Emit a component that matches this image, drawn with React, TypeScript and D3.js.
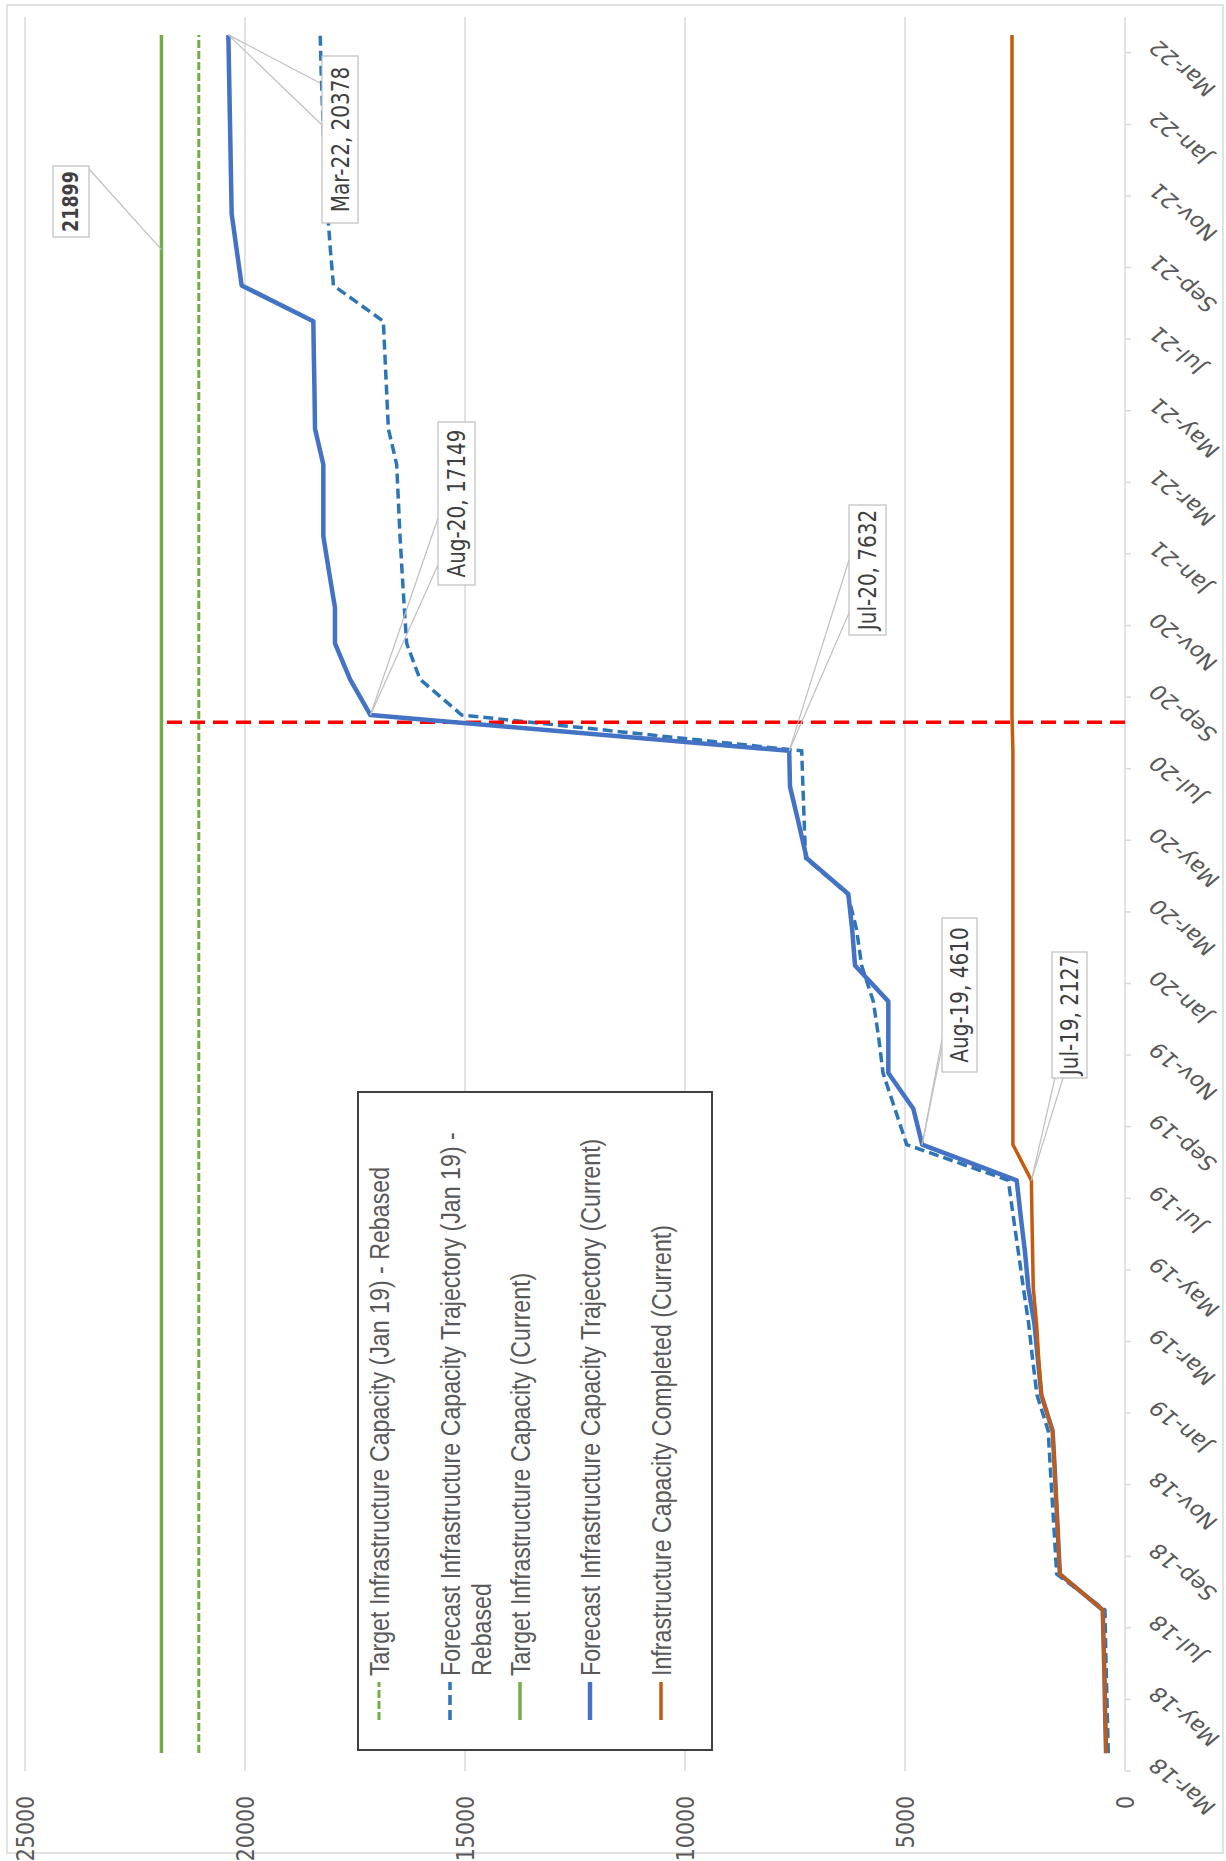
import React from 'react';
import * as d3 from 'd3';

// Month categories (one point per month)
const months = [
  'Mar-18', 'Apr-18', 'May-18', 'Jun-18', 'Jul-18', 'Aug-18', 'Sep-18', 'Oct-18', 'Nov-18', 'Dec-18',
  'Jan-19', 'Feb-19', 'Mar-19', 'Apr-19', 'May-19', 'Jun-19', 'Jul-19', 'Aug-19', 'Sep-19', 'Oct-19', 'Nov-19', 'Dec-19',
  'Jan-20', 'Feb-20', 'Mar-20', 'Apr-20', 'May-20', 'Jun-20', 'Jul-20', 'Aug-20', 'Sep-20', 'Oct-20', 'Nov-20', 'Dec-20',
  'Jan-21', 'Feb-21', 'Mar-21', 'Apr-21', 'May-21', 'Jun-21', 'Jul-21', 'Aug-21', 'Sep-21', 'Oct-21', 'Nov-21', 'Dec-21',
  'Jan-22', 'Feb-22', 'Mar-22',
];

// Forecast Infrastructure Capacity Trajectory (Jan 19) - Rebased
const forecastRebased = [
  380, 400, 420, 440, 455, 1553, 1600, 1650, 1700, 1745,
  2000, 2100, 2190, 2311, 2424, 2540, 2652, 4962, 5230, 5500, 5600, 5720,
  5985, 6100, 6300, 7260, 7290, 7320, 7348, 15075, 16023, 16326, 16380, 16430,
  16477, 16515, 16553, 16742, 16780, 16818, 16856, 17990, 18060, 18120, 18170, 18210,
  18240, 18270, 18290,
];

// Forecast Infrastructure Capacity Trajectory (Current)
const forecastCurrent = [
  430, 450, 465, 485, 505, 1480, 1520, 1560, 1600, 1645,
  1900, 1980, 2060, 2197, 2273, 2370, 2462, 4610, 4811, 5379, 5379, 5379,
  6136, 6200, 6288, 7234, 7420, 7614, 7632, 17149, 17614, 17955, 17955, 18090,
  18220, 18220, 18220, 18409, 18420, 18435, 18447, 20076, 20190, 20303, 20318, 20333,
  20348, 20363, 20378,
];

// Infrastructure Capacity Completed (Current)
const completed = [
  430, 450, 465, 485, 505, 1480, 1520, 1560, 1600, 1645,
  1900, 1960, 2010, 2085, 2100, 2115, 2127, 2548, 2548, 2548, 2548, 2548,
  2548, 2548, 2548, 2548, 2548, 2548, 2548, 2568, 2568, 2568, 2568, 2568,
  2568, 2568, 2568, 2568, 2568, 2568, 2568, 2568, 2568, 2568, 2568, 2568,
  2568, 2568, 2568,
];

// Target capacities (flat across the whole period)
const targetCurrent = 21899;
const targetRebased = 21050;

// Cut-off marker (month index position) spanning 0 .. current target
const cutoffPosition = 28.8;
const cutoffRange = [0, 21899];

const valueTicks = [0, 5000, 10000, 15000, 20000, 25000];

// Landscape chart frame; the whole drawing is turned a quarter turn
const W = 1861;
const H = 1226;
const SY = 1.2; // glyph stretch along the value direction

const FONT_NUM = "'DejaVu Sans', Verdana, sans-serif";
const FONT_LEG = "'Liberation Sans', Arial, sans-serif";

const x = d3.scaleLinear().domain([-0.5, months.length - 0.5]).range([90, 1844]);
const y = d3.scaleLinear().domain([0, 25000]).range([1125, 25]);

const COLORS = {
  green: '#70AD47',
  blueDash: '#2E75B6',
  blue: '#4472C4',
  orange: '#C55A11',
  red: '#FF0000',
};

type TxtProps = {
  x: number; y: number; rot?: number; anchor?: string; size: number; family: string;
  weight?: string | number; fill?: string; baseline?: string; children: React.ReactNode;
};

function Txt({ x: tx, y: ty, rot = 0, anchor = 'middle', size, family, weight = 'normal', fill = '#595959', baseline = 'central', children }: TxtProps) {
  return (
    <g transform={`translate(${tx},${ty}) scale(1,${SY})${rot ? ` rotate(${rot})` : ''}`}>
      <text textAnchor={anchor as any} dominantBaseline={baseline as any} fontSize={size} fontFamily={family} fontWeight={weight} fill={fill}>
        {children}
      </text>
    </g>
  );
}

const line = d3.line<number>().x((_, i) => x(i)).y((d) => y(d));

const legendItems = [
  { lines: ['Target Infrastructure Capacity (Jan 19) - Rebased'], color: COLORS.green, dash: '8,3', width: 3, row: 379 },
  { lines: ['Forecast Infrastructure Capacity Trajectory (Jan 19) -', 'Rebased'], color: COLORS.blueDash, dash: '10,5', width: 3.5, row: 450 },
  { lines: ['Target Infrastructure Capacity (Current)'], color: COLORS.green, dash: undefined, width: 3.5, row: 520 },
  { lines: ['Forecast Infrastructure Capacity Trajectory (Current)'], color: COLORS.blue, dash: undefined, width: 4.5, row: 590 },
  { lines: ['Infrastructure Capacity Completed (Current)'], color: COLORS.orange, dash: undefined, width: 3.5, row: 661 },
];

const callouts = [
  { values: forecastCurrent, idx: 48, box: { x0: 1638, x1: 1805, y0: 322, y1: 358 }, ends: [[1736, 322], [1778, 320]] },
  { values: forecastCurrent, idx: 29, box: { x0: 1276, x1: 1439, y0: 438, y1: 475 }, ends: [[1343, 438], [1296, 438]] },
  { values: forecastCurrent, idx: 28, box: { x0: 1226, x1: 1356, y0: 849, y1: 886 }, ends: [[1248, 849], [1301, 849]] },
  { values: forecastCurrent, idx: 17, box: { x0: 789, x1: 943, y0: 942, y1: 977 }, ends: [[814, 942], [822, 942]] },
  { values: completed, idx: 16, box: { x0: 783, x1: 909, y0: 1052, y1: 1087 }, ends: [[783, 1055], [783, 1063]] },
];

export default function App() {
  const tickIdx = months.map((_, i) => i).filter((i) => i % 2 === 0);
  const targetLabelIdx = 42;
  return (
    <svg width={H} height={W} style={{ position: 'absolute', left: 0, top: 0, background: '#fff' }}>
      <rect x={0} y={0} width={H} height={W} fill="#fff" />
      <g transform={`translate(0,${W}) rotate(-90)`}>
        {/* chart frame */}
        <rect x={8} y={7} width={1848} height={1216} fill="none" stroke="#D9D9D9" strokeWidth={1.5} />

        {/* value gridlines */}
        {valueTicks.filter((v) => v > 0).map((v) => (
          <line key={v} x1={x.range()[0]} x2={x.range()[1]} y1={y(v)} y2={y(v)} stroke="#D9D9D9" strokeWidth={1.5} />
        ))}
        {/* category axis */}
        <line x1={x.range()[0]} x2={x.range()[1]} y1={y(0)} y2={y(0)} stroke="#D9D9D9" strokeWidth={1.5} />
        {tickIdx.map((i) => (
          <line key={i} x1={x(i - 0.5)} x2={x(i - 0.5)} y1={y(0)} y2={y(0) + 6} stroke="#D9D9D9" strokeWidth={1.5} />
        ))}

        {/* value tick labels */}
        {valueTicks.map((v) => (
          <Txt key={v} x={65} y={y(v)} anchor="end" size={20.5} family={FONT_NUM}>{v}</Txt>
        ))}

        {/* category tick labels */}
        {tickIdx.map((i) => (
          <Txt key={i} x={x(i) - 4} y={y(0) + 34} rot={-45} anchor="end" baseline="alphabetic" size={20} family={FONT_NUM}>
            {months[i]}
          </Txt>
        ))}

        {/* series, in legend order */}
        <line x1={x(0)} x2={x(months.length - 1)} y1={y(targetRebased)} y2={y(targetRebased)} stroke={COLORS.green} strokeWidth={3} strokeDasharray="8,3" />
        <path d={line(forecastRebased) || ''} fill="none" stroke={COLORS.blueDash} strokeWidth={3.5} strokeDasharray="10,5" />
        <line x1={x(0)} x2={x(months.length - 1)} y1={y(targetCurrent)} y2={y(targetCurrent)} stroke={COLORS.green} strokeWidth={3.5} />
        <line x1={x(cutoffPosition)} x2={x(cutoffPosition)} y1={y(cutoffRange[0])} y2={y(cutoffRange[1])} stroke={COLORS.red} strokeWidth={3.5} strokeDasharray="15,8" />
        <path d={line(forecastCurrent) || ''} fill="none" stroke={COLORS.blue} strokeWidth={4.5} strokeLinejoin="round" />
        <path d={line(completed) || ''} fill="none" stroke={COLORS.orange} strokeWidth={3.5} strokeLinejoin="round" />

        {/* data callouts */}
        {callouts.map((c, k) => {
          const px = x(c.idx);
          const py = y(c.values[c.idx]);
          return (
            <g key={k}>
              {c.ends.map((e, j) => (
                <line key={j} x1={px} y1={py} x2={e[0]} y2={e[1]} stroke="#BFBFBF" strokeWidth={1.2} />
              ))}
              <rect x={c.box.x0} y={c.box.y0} width={c.box.x1 - c.box.x0} height={c.box.y1 - c.box.y0} fill="#fff" stroke="#BFBFBF" strokeWidth={1.2} />
              <Txt x={(c.box.x0 + c.box.x1) / 2} y={(c.box.y0 + c.box.y1) / 2} size={20} family={FONT_NUM} fill="#404040">
                {`${months[c.idx]}, ${c.values[c.idx]}`}
              </Txt>
            </g>
          );
        })}

        {/* target value callout */}
        <line x1={x(targetLabelIdx)} y1={y(targetCurrent)} x2={1692} y2={89} stroke="#BFBFBF" strokeWidth={1.2} />
        <rect x={1624} y={53} width={71} height={36} fill="#fff" stroke="#BFBFBF" strokeWidth={1.2} />
        <Txt x={1659.5} y={71} size={17.5} family={FONT_NUM} weight="bold" fill="#404040">{targetCurrent}</Txt>

        {/* legend */}
        <rect x={111} y={358} width={658} height={354} fill="#fff" stroke="#404040" strokeWidth={2} />
        {legendItems.map((it, k) => (
          <g key={k}>
            <line x1={141} x2={179} y1={it.row} y2={it.row} stroke={it.color} strokeWidth={it.width} strokeDasharray={it.dash} />
            {it.lines.map((t, j) => (
              <Txt key={j} x={185} y={it.row + j * 31} anchor="start" size={23.2} family={FONT_LEG}>{t}</Txt>
            ))}
          </g>
        ))}
      </g>
    </svg>
  );
}
